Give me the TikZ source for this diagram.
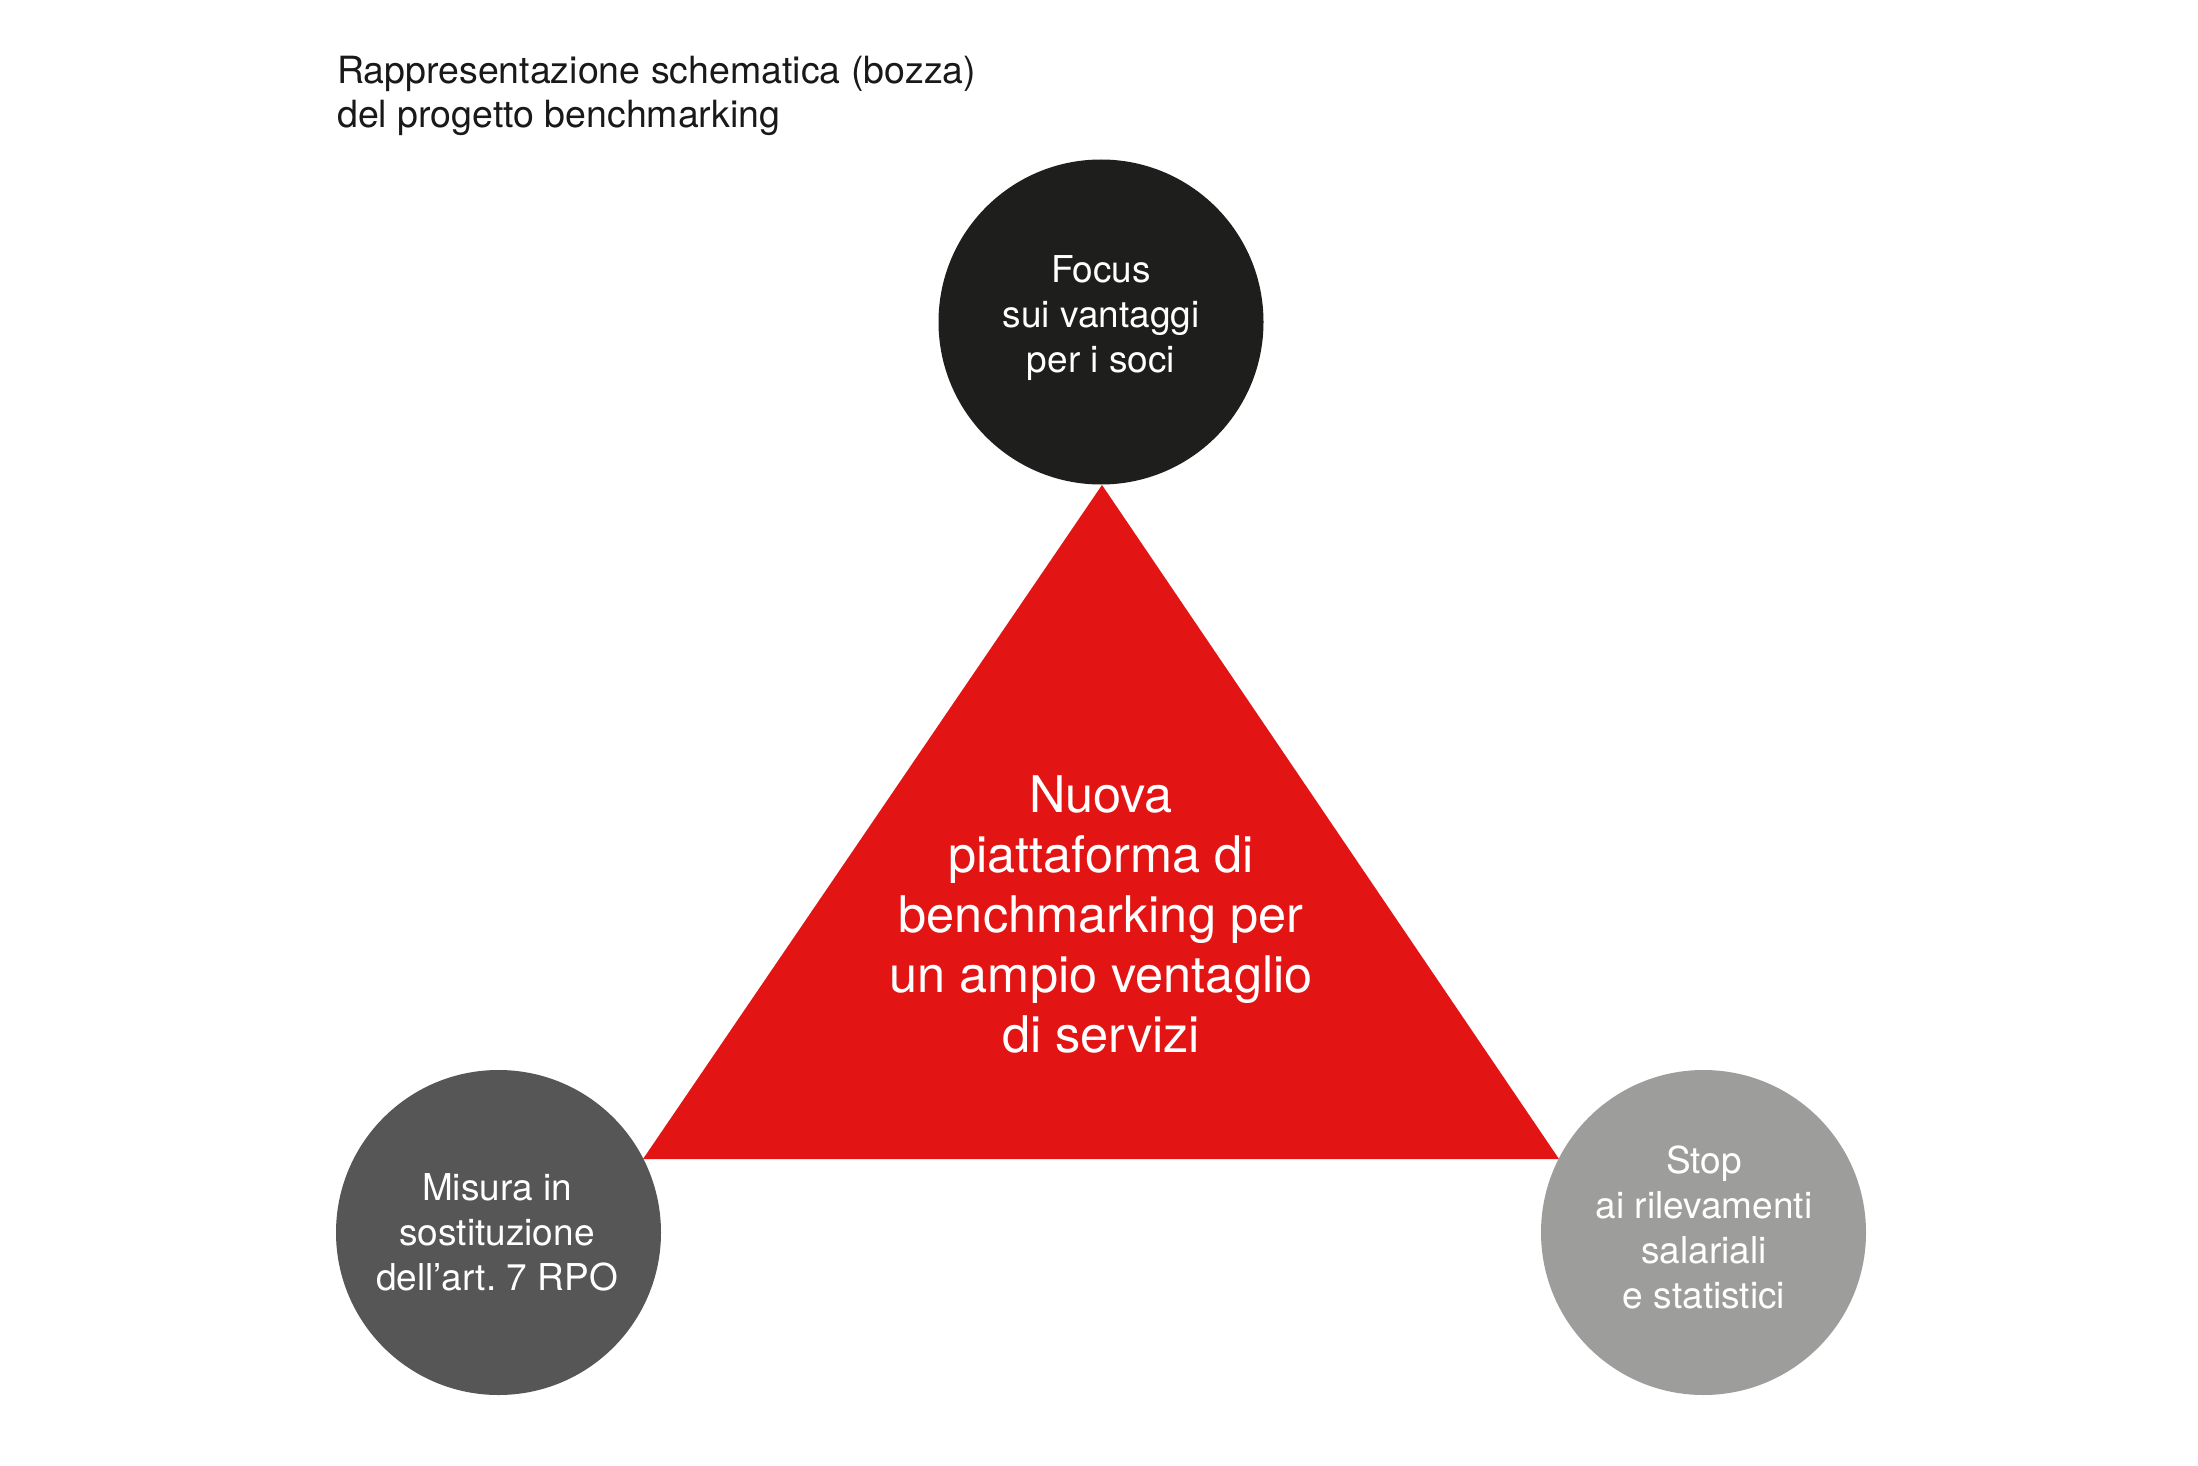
\documentclass[tikz,border=0pt]{standalone}
\usepackage{fontspec}
\setmainfont{TeX Gyre Heros}
\frenchspacing
\definecolor{triRed}{HTML}{E31414}
\definecolor{circBlack}{HTML}{1E1E1C}
\definecolor{circDark}{HTML}{575656}
\definecolor{circLight}{HTML}{9D9D9C}
\tikzset{
  disc/.style={circle, minimum size=325pt, inner sep=0pt, draw=none},
  disctext/.style={text=white, align=center, anchor=base, inner sep=0pt,
    font=\fontsize{37}{45}\selectfont},
  tritext/.style={text=white, align=center, anchor=base, inner sep=0pt,
    font=\fontsize{50.5}{60}\selectfont},
  titletext/.style={text=black!90, align=left, anchor=base west, inner sep=0pt,
    font=\fontsize{37.5}{44}\selectfont}
}
\begin{document}
\begin{tikzpicture}[x=1pt,y=-1pt]
\useasboundingbox (0,0) rectangle (2198,1466);
\fill[white] (0,0) rectangle (2198,1466);
% triangle
\coordinate (apex) at (1102,485);
\coordinate (bl) at (643,1159);
\coordinate (br) at (1559,1159);
\fill[triRed] (apex) -- (br) -- (bl) -- cycle;
% circles
\node[disc, fill=circBlack] (top) at (1101,322) {};
\node[disc, fill=circDark] (left) at (498.5,1232.5) {};
\node[disc, fill=circLight] (right) at (1703.5,1232.5) {};
% texts (base anchor = baseline of last line)
\node[titletext] (title) at (337,128) {Rappresentazione schematica (bozza)\\del progetto benchmarking};
\node[disctext] (toptxt) at (1101,372) {Focus\\sui vantaggi\\per i soci};
\node[disctext] (lefttxt) at (497,1290) {Misura in\\sostituzione\\dell’art. 7 RPO};
\node[disctext] (righttxt) at (1704,1308) {Stop\\ai rilevamenti\\salariali\\e statistici};
\node[tritext] (tritxt) at (1101,1052) {Nuova\\piattaforma di\\benchmarking per\\un ampio ventaglio\\di servizi};
\end{tikzpicture}
\end{document}
